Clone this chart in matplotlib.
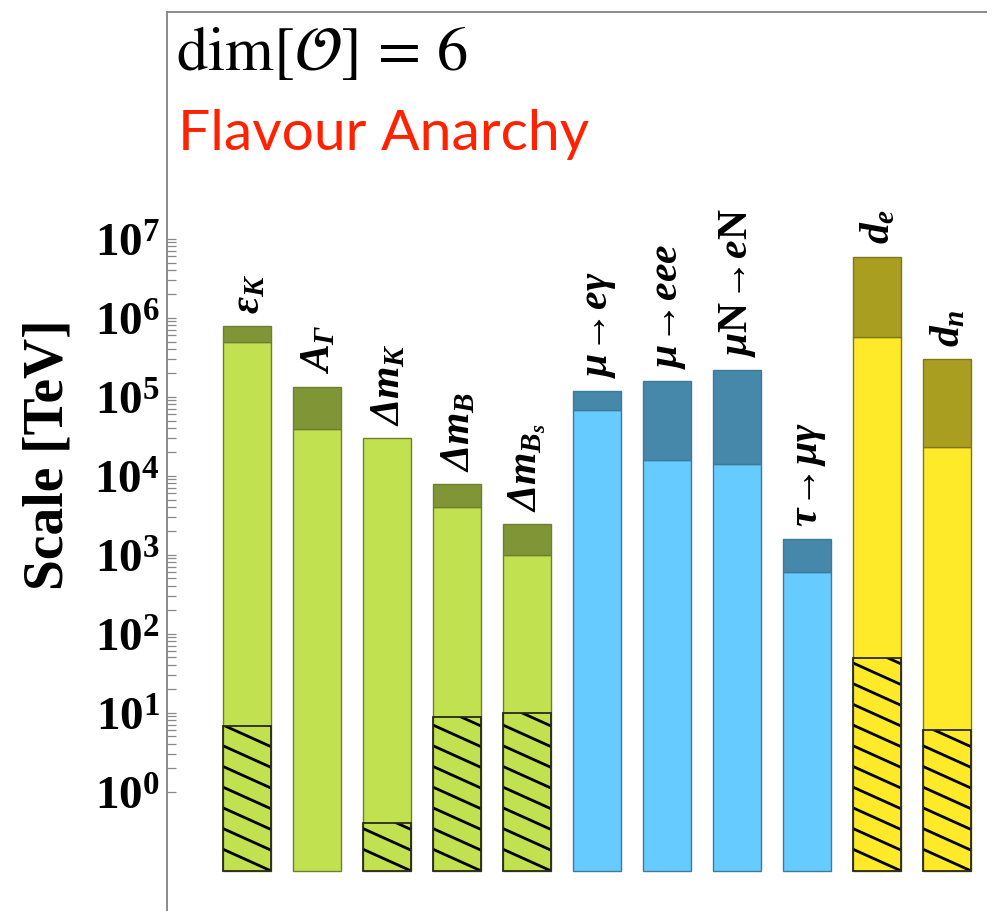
import numpy as np
import matplotlib.pyplot as plt
from matplotlib.patches import Rectangle

plt.rcParams['mathtext.fontset'] = 'custom'
plt.rcParams['mathtext.rm'] = 'Liberation Serif:bold:italic'
plt.rcParams['mathtext.it'] = 'Liberation Serif:bold:italic'
plt.rcParams['mathtext.bf'] = 'Liberation Serif:bold'

# observables
labels = [r'$\varepsilon_K$', r'$A_\Gamma$', r'$\Delta m_K$', r'$\Delta m_B$', r'$\Delta m_{B_s}$',
          r'$\mu\!\rightarrow\! e\gamma$', r'$\mu\!\rightarrow\! eee$',
          r'$\mu\mathbf{N}\!\rightarrow\! e\mathbf{N}$', r'$\tau\!\rightarrow\!\mu\gamma$',
          r'$d_e$', r'$d_n$']
group = ['meson'] * 5 + ['lepton'] * 4 + ['edm'] * 2

# bounds on the scale [TeV]
lower = [4.9e5, 3.9e4, 3.0e4, 4.0e3, 9.9e2, 6.8e4, 1.58e4, 1.39e4, 6.0e2, 5.75e5, 2.29e4]
upper = [7.85e5, 1.34e5, 3.0e4, 7.85e3, 2.43e3, 1.19e5, 1.58e5, 2.18e5, 1.58e3, 5.9e6, 2.97e5]
hatched = [6.85, None, 0.40, 8.9, 10.0, None, None, None, None, 49.7, 6.0]
base = 0.1

light = {'meson': '#C2E151', 'lepton': '#66CCFF', 'edm': '#FFEA29'}
dark = {'meson': '#809636', 'lepton': '#4588AA', 'edm': '#AA9E20'}
edge = {'meson': '#6E8030', 'lepton': '#3F7A99', 'edm': '#7F7620'}

fig = plt.figure(figsize=(9.94, 9.11), dpi=100)
ax = fig.add_axes([167/994, 0, (986-167)/994, 1-12/911])
ax.set_yscale('log')

x = np.arange(len(labels))
w = 0.676

for i in x:
    g = group[i]
    ax.bar(i, lower[i] - base, bottom=base, width=w, color=light[g],
           edgecolor=edge[g], linewidth=1)
    if upper[i] > lower[i]:
        ax.bar(i, upper[i] - lower[i], bottom=lower[i], width=w, color=dark[g],
               edgecolor=edge[g], linewidth=1)
    ax.annotate(labels[i], (i, upper[i]), xytext=(0, 9), textcoords='offset points',
                rotation=90, ha='center', va='bottom', fontsize=30)

# hatched part of the bars, with shallow diagonal lines
step, drop = 0.262, 0.27
for i in x:
    h = hatched[i]
    if h is None:
        continue
    x0, x1 = i - w/2, i + w/2
    rect = Rectangle((x0, base), w, h - base, facecolor='none',
                     edgecolor='#2a2a1a', linewidth=1.3, zorder=3)
    ax.add_patch(rect)
    k = 0
    while base * 10**(k*step) < h:
        ln, = ax.plot([x0, x1], [base * 10**(k*step + drop), base * 10**(k*step)],
                      color='black', linewidth=2.0, zorder=2.5)
        ln.set_clip_path(rect)
        k += 1

ax.set_xlim(-1.143, 10.557)
ax.set_ylim(10**-1.51, 10**9.87)
ax.set_xticks([])

ax.set_yticks([10.0**n for n in range(8)])
ax.set_yticklabels([r'$\mathbf{10^{%d}}$' % n for n in range(8)])
ax.set_yticks([m * 10.0**n for n in range(7) for m in range(2, 10)], minor=True)
ax.yaxis.set_minor_formatter(plt.NullFormatter())
ax.tick_params(axis='y', which='both', direction='in', length=6.5, width=0.9,
               color='#888888', pad=5, labelsize=34)

for s in ['right', 'bottom']:
    ax.spines[s].set_visible(False)
for s in ['left', 'top']:
    ax.spines[s].set_color('#8a8a8a')
    ax.spines[s].set_linewidth(1.4)

fig.text(49/994, 1 - 455/911, 'Scale [TeV]', rotation=90, ha='center', va='center',
         fontsize=40, family='Liberation Serif', weight='bold')

fig.text(176/994, 1 - 70/911, r'$\mathrm{dim}[\mathcal{O}]\, =\, 6$', math_fontfamily='stix',
         fontsize=45, va='baseline', ha='left')
fig.text(178/994, 1 - 150/911, 'Flavour Anarchy', color='#FF2200', fontsize=41,
         family='Lato', weight='normal', va='baseline', ha='left')

fig.savefig('out.png', dpi=100)
